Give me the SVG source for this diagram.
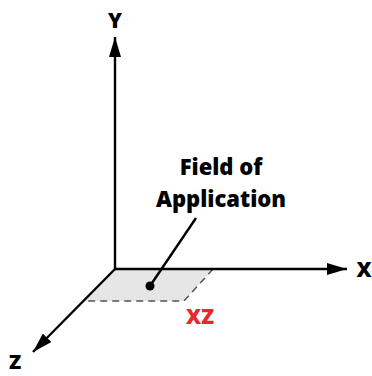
<svg xmlns="http://www.w3.org/2000/svg" width="372" height="376" viewBox="0 0 372 376">
<style>
.axis{stroke:#000;stroke-width:2.4;fill:none}
.lbl{font-family:"Open Sans",Lato,sans-serif;font-weight:800;fill:#000;text-anchor:middle}
</style>
<defs>
<marker id="ah" viewBox="0 0 20 12" refX="20" refY="6" markerWidth="20" markerHeight="12" markerUnits="userSpaceOnUse" orient="auto">
<path d="M0,0 L20,6 L0,12 Z" fill="#000"/>
</marker>
</defs>
<rect width="372" height="376" fill="#fff"/>
<g id="plane">
<polygon points="115,269 213,269 184,301 83,301" fill="#e6e6e6"/>
<path d="M213,269 L184,301 L83,301" fill="none" stroke="#555" stroke-width="1.5" stroke-dasharray="7,5"/>
</g>
<g id="connectors">
<line class="axis" x1="115" y1="269" x2="115" y2="37" marker-end="url(#ah)"/>
<line class="axis" x1="114" y1="269" x2="347" y2="269" marker-end="url(#ah)"/>
<line class="axis" x1="115" y1="269" x2="33" y2="352" marker-end="url(#ah)"/>
<line class="axis" x1="150" y1="286" x2="196" y2="218"/>
<circle cx="150" cy="286" r="4.5" fill="#000"/>
</g>
<g id="label-y"><text class="lbl" x="115" y="28" font-size="21">Y</text></g>
<g id="label-x"><text class="lbl" x="364" y="277" font-size="21">X</text></g>
<g id="label-z"><text class="lbl" x="15" y="369" font-size="20">Z</text></g>
<g id="label-xz"><text class="lbl" x="200" y="324" font-size="21" style="fill:#e8282c">XZ</text></g>
<g id="label-field">
<text class="lbl" x="221" y="175" font-size="22">Field of</text>
<text class="lbl" x="221" y="207" font-size="22">Application</text>
</g>
</svg>
